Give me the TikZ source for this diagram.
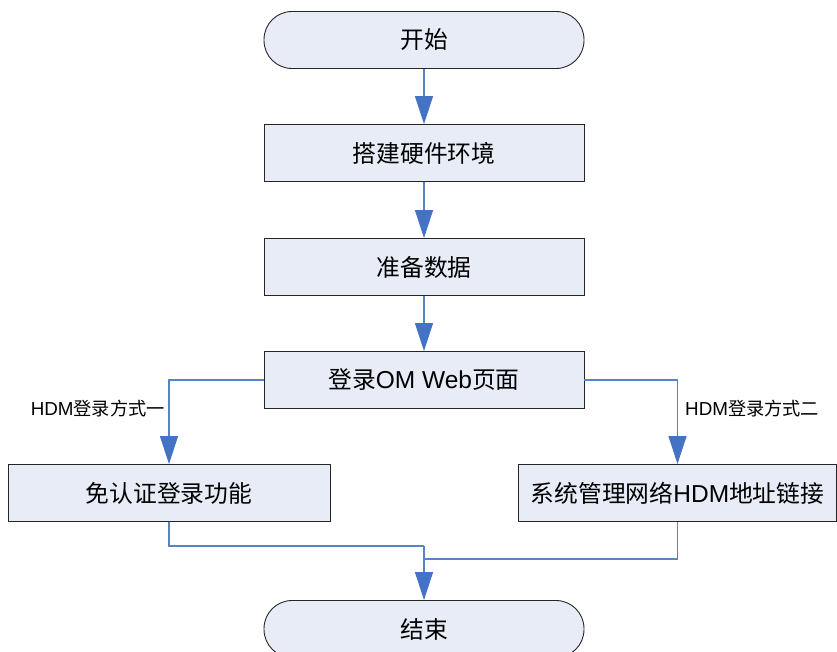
\documentclass[tikz,border=0pt]{standalone}
\usepackage{fontspec}
\setmainfont{Liberation Sans}
\newfontfamily\cjk{Noto Sans CJK SC}[Scale=0.97]
\usetikzlibrary{arrows.meta}
\definecolor{boxfill}{HTML}{E7ECF7}
\definecolor{lineblue}{HTML}{5585C5}
\definecolor{tipblue}{HTML}{4472C4}
\newcommand{\zh}[1]{{\cjk #1}}
\tikzset{
  stepbox/.style={draw=black!85, line width=0.9pt, fill=boxfill, minimum width=320pt, minimum height=57pt, inner sep=0pt, font=\fontsize{24.5}{28}\selectfont},
  termbox/.style={stepbox, rounded corners=28pt},
  conn/.style={draw=lineblue, line width=1.2pt},
  arr/.style={conn, -{Triangle[width=18pt,length=28pt,fill=tipblue,color=tipblue]}},
  lab/.style={font=\fontsize{18.8}{21}\selectfont, inner sep=0pt}
}
\begin{document}
\begin{tikzpicture}[x=1pt,y=-1pt]
\useasboundingbox (0,0) rectangle (837,652);
\node[termbox] (start) at (424,40) {\zh{开始}};
\node[stepbox] (b1) at (424,153) {\zh{搭建硬件环境}};
\node[stepbox] (b2) at (424,267) {\zh{准备数据}};
\node[stepbox] (b3) at (424,380) {\zh{登录}OM Web\zh{页面}};
\node[stepbox, minimum width=322pt] (left) at (169,493) {\zh{免认证登录功能}};
\node[stepbox, minimum width=318pt] (right) at (677.5,493) {\zh{系统管理网络}HDM\zh{地址链接}};
\node[termbox] (end) at (424,629) {\zh{结束}};
\node[lab, anchor=east] (lab1) at (165,409) {HDM\zh{登录方式一}};
\node[lab, anchor=west] (lab2) at (685,409) {HDM\zh{登录方式二}};
\coordinate (m1) at (424,546);
\coordinate (m2) at (424,559);
\draw[arr] (start) -- (b1);
\draw[arr] (b1) -- (b2);
\draw[arr] (b2) -- (b3);
\draw[arr] (b3.west) -| (left.north);
\draw[arr] (b3.east) -| (right.north);
\draw[conn] (left.south) |- (m1);
\draw[conn] (right.south) |- (m2);
\draw[arr] (m1) -- (end.north);
\end{tikzpicture}
\end{document}
